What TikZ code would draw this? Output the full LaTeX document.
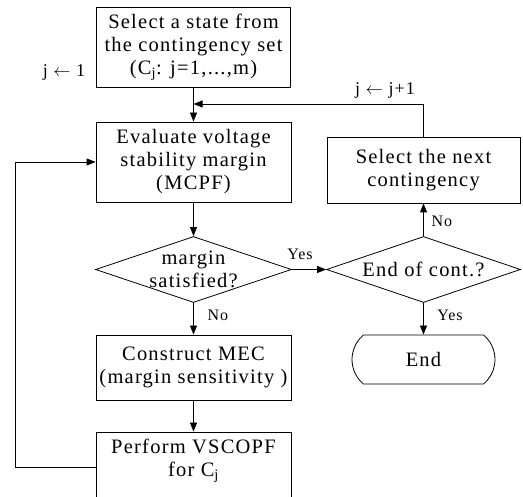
\documentclass[tikz,border=0pt]{standalone}
\usepackage{fontspec}
\setmainfont{Liberation Serif}[LetterSpace=6]
\usetikzlibrary{shapes.geometric,shapes.misc,arrows.meta}
\begin{document}
\begin{tikzpicture}[x=1pt,y=-1pt,
  ln/.style={line width=0.8pt},
  box/.style={draw, ln, rectangle, inner sep=0pt, align=center, font=\fontsize{20.5}{23}\selectfont},
  dia/.style={draw, ln, diamond, inner sep=0pt},
  txt/.style={inner sep=0pt, align=center, font=\fontsize{20.5}{23}\selectfont},
  lbl/.style={inner sep=0pt, font=\fontsize{16}{18}\selectfont},
  jlbl/.style={inner sep=0pt, font=\fontsize{18}{20}\selectfont},
  arr/.style={ln, -{Triangle[length=9pt,width=7pt]}}]
\useasboundingbox (0,0) rectangle (523,497);
% left column
\node[box, minimum width=194pt, minimum height=80pt] (b1) at (193.5,47)
  {Select a state from\\the contingency set\\(C\textsubscript{j}: j=1,...,m)};
\node[box, minimum width=195pt, minimum height=80pt] (b2) at (193.5,162)
  {Evaluate voltage\\stability margin\\(MCPF)};
\node[dia, minimum width=196pt, minimum height=66pt] (d1) at (193.5,269.5) {};
\node[txt] (t1) at (d1) {margin\\satisfied?};
\node[box, minimum width=195pt, minimum height=65pt] (b3) at (193.5,367.5)
  {Construct MEC\\(margin sensitivity )};
\node[box, minimum width=195pt, minimum height=70pt] (b4) at (193.5,467) {};
\node[txt] (t4) at (193.5,461) {Perform VSCOPF\\for C\textsubscript{j}};
% right column
\node[box, minimum width=193pt, minimum height=66pt] (rb) at (423.5,170)
  {Select the next\\contingency};
\node[dia, minimum width=194pt, minimum height=66pt] (d2) at (423.5,269.5) {};
\node[txt] (t2) at (d2) {End of cont.?};
\node[draw, ln, rounded rectangle, rounded rectangle arc length=100,
  minimum width=143pt, minimum height=49pt, inner sep=0pt,
  font=\fontsize{20.5}{23}\selectfont] (e) at (423.5,359.5) {End};
% labels
\node[jlbl] (l1) at (64,72) {j $\leftarrow$ 1};
\node[jlbl] (l2) at (385,90) {j $\leftarrow$ j+1};
\node[lbl] (y1) at (300,254) {Yes};
\node[lbl] (n1) at (218,315) {No};
\node[lbl] (n2) at (442,221) {No};
\node[lbl] (y2) at (450,315) {Yes};
% connectors
\coordinate (m) at (193.5,104);
\draw[arr] (b1) -- (b2);
\draw[arr] (rb.north) |- (m);
\draw[arr] (b2) -- (d1);
\draw[arr] (d1) -- (b3);
\draw[arr] (b3) -- (b4);
\draw[arr] (b4.west) -- ++(-80,0) |- (b2.west);
\draw[arr] (d1.east) -- (d2.west);
\draw[arr] (d2.north) -- (rb.south);
\draw[arr] (d2.south) -- (e.north);
\end{tikzpicture}
\end{document}
